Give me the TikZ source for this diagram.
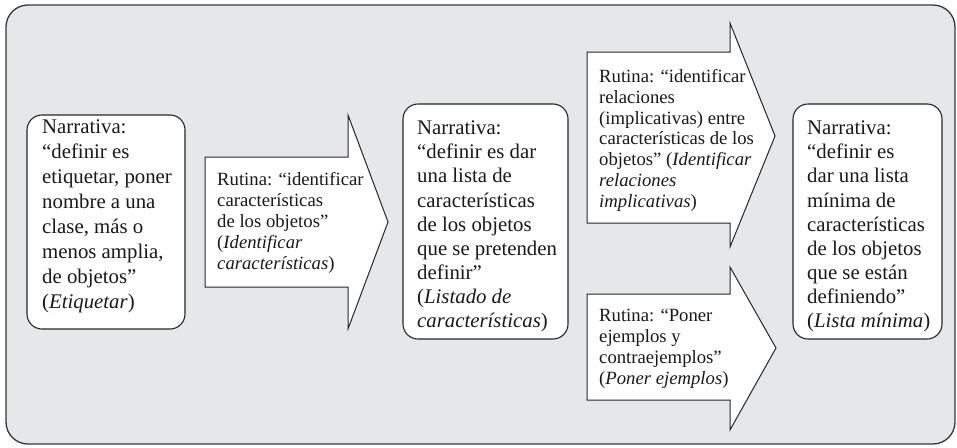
\documentclass[tikz,border=0pt]{standalone}
\usepackage{fontspec}
\setmainfont{Liberation Serif}
\definecolor{bggray}{RGB}{230,231,233}
\definecolor{edgegray}{RGB}{55,55,55}
\tikzset{
  panel/.style={draw=edgegray, line width=1.3pt, fill=bggray, rounded corners=22pt},
  narrbox/.style={draw=black!85, line width=1.1pt, fill=white, rounded corners=15pt},
  arrowshape/.style={draw=black!85, line width=1.0pt, fill=white, line join=miter},
  narrtext/.style={anchor=north west, inner sep=0pt, align=left, text=black!90,
    font={\fontsize{20.8}{25}\selectfont}},
  narrtextb/.style={narrtext, font={\fontsize{20.8}{24.1}\selectfont}},
  routtext/.style={anchor=north west, inner sep=0pt, align=left, text=black!90,
    font={\fontsize{18.7}{20.9}\selectfont}},
}
\begin{document}
\begin{tikzpicture}[x=1pt,y=-1pt]
\useasboundingbox (0,0) rectangle (957,447);
\draw[panel] (6,5) rectangle (955,444);

% narrative boxes
\draw[narrbox] (27,115) rectangle (185,329);
\draw[narrbox] (403,104) rectangle (568,339);
\draw[narrbox] (793,104) rectangle (942,339);

% arrows
\draw[arrowshape] (205,157) -- (348,157) -- (348,115) -- (388,222) -- (348,329) -- (348,287) -- (205,287) -- cycle;
\draw[arrowshape] (587,52) -- (730,52) -- (730,23) -- (775,136) -- (730,247) -- (730,223) -- (587,223) -- cycle;
\draw[arrowshape] (587,294) -- (730,294) -- (730,267) -- (776,348) -- (730,430) -- (730,400) -- (587,400) -- cycle;

% texts
\node[narrtext] (n1) at (42,119.8) {Narrativa:\\“definir es\\etiquetar, poner\\nombre a una\\clase, más o\\menos amplia,\\de objetos”\\(\textit{Etiquetar})};
\node[narrtextb] (n2) at (417,120.8) {Narrativa:\\“definir es dar\\una lista de\\características\\de los objetos\\que se pretenden\\definir”\\(\textit{Listado de}\\\textit{características})};
\node[narrtextb] (n3) at (807,120.8) {Narrativa:\\“definir es\\dar una lista\\mínima de\\características\\de los objetos\\que se están\\definiendo”\\(\textit{Lista mínima})};

\node[routtext] (r1) at (217,172.2) {Rutina: “identificar\\características\\de los objetos”\\(\textit{Identificar}\\\textit{características})};
\node[routtext] (r2) at (599,68.9) {Rutina: “identificar\\relaciones\\(implicativas) entre\\características de los\\objetos” (\textit{Identificar}\\\textit{relaciones}\\\textit{implicativas})};
\node[routtext] (r3) at (599,308.9) {Rutina: “Poner\\ejemplos y\\contraejemplos”\\(\textit{Poner ejemplos})};
\end{tikzpicture}
\end{document}
